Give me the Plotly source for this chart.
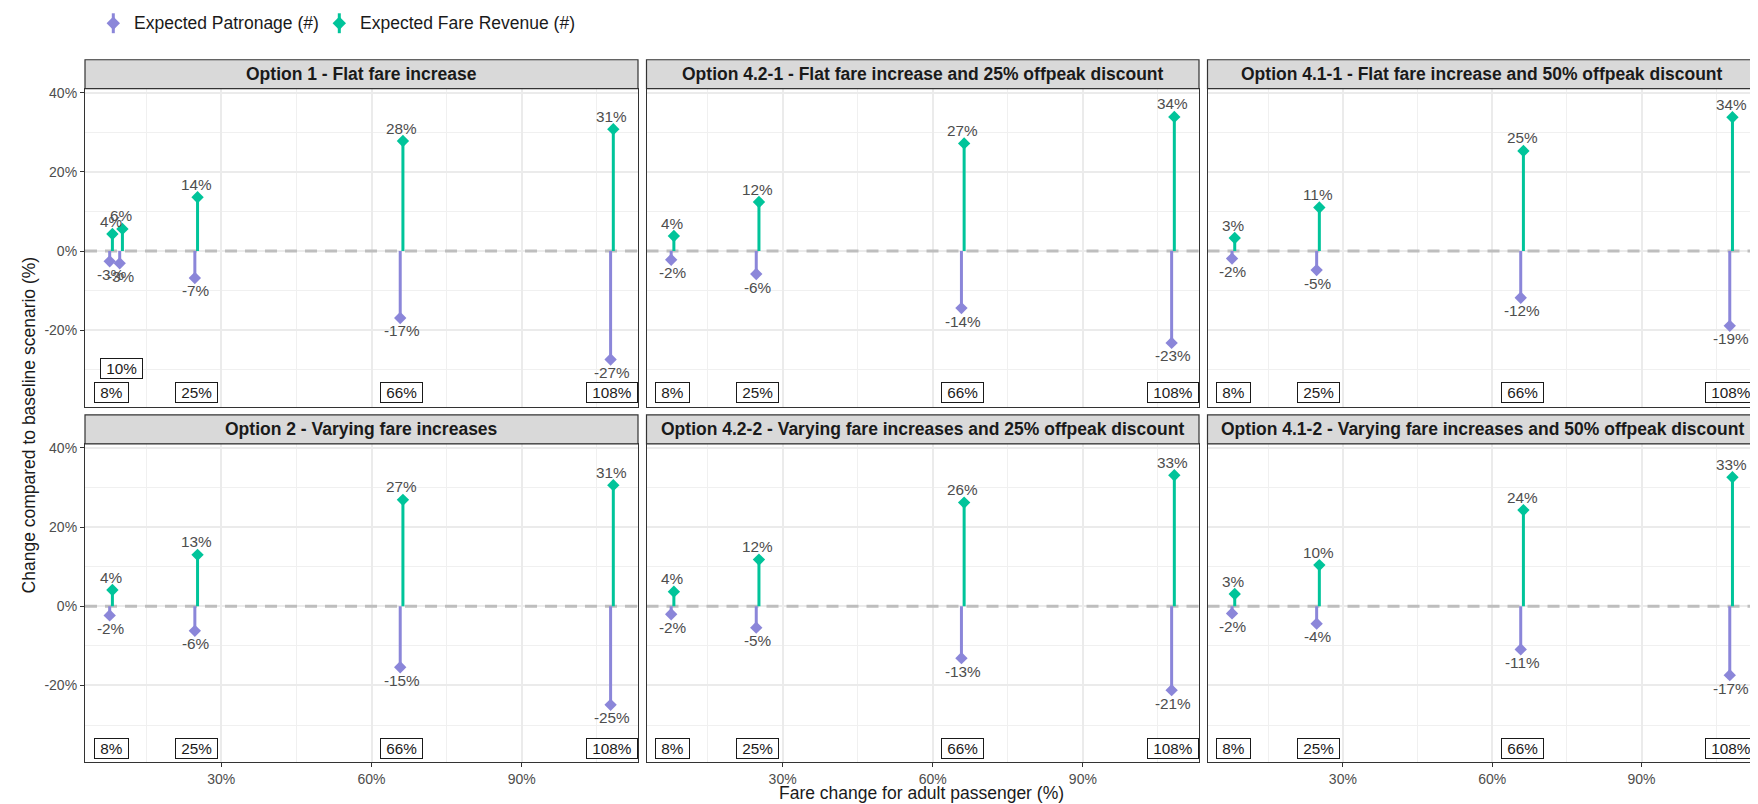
import plotly.graph_objects as go

# page body has an 8px margin; the figure is laid out in reference pixels minus OFF
OFF = 8
W, H = 1758 - OFF, 804 - OFF

# ---------------- data ----------------
panel_titles = [
    "Option 1 - Flat fare increase",
    "Option 4.2-1 - Flat fare increase and 25% offpeak discount",
    "Option 4.1-1 - Flat fare increase and 50% offpeak discount",
    "Option 2 - Varying fare increases",
    "Option 4.2-2 - Varying fare increases and 25% offpeak discount",
    "Option 4.1-2 - Varying fare increases and 50% offpeak discount",
]

fare_opt1 = [8, 10, 25, 66, 108]
fare_std = [8, 25, 66, 108]

patronage_opt1 = [-2.6, -3.1, -6.8, -16.9, -27.4]
revenue_opt1 = [4.3, 5.6, 13.6, 27.8, 30.8]

patronage_opt421 = [-2.2, -5.8, -14.4, -23.2]
revenue_opt421 = [3.8, 12.4, 27.2, 33.9]

patronage_opt411 = [-1.9, -4.8, -11.8, -18.9]
revenue_opt411 = [3.3, 11.0, 25.3, 33.8]

patronage_opt2 = [-2.3, -6.2, -15.4, -24.9]
revenue_opt2 = [4.1, 13.0, 26.9, 30.6]

patronage_opt422 = [-2.0, -5.4, -13.1, -21.2]
revenue_opt422 = [3.7, 11.8, 26.2, 33.1]

patronage_opt412 = [-1.8, -4.4, -10.9, -17.4]
revenue_opt412 = [3.1, 10.4, 24.3, 32.6]

series_names = ["Expected Patronage (#)", "Expected Fare Revenue (#)"]

x_tickvals = [30, 60, 90]
x_minorvals = [15, 45, 75, 105]
y_tickvals = [-20, 0, 20, 40]
y_minorvals = [-30, -10, 10, 30]

panels = [
    (fare_opt1, patronage_opt1, revenue_opt1),
    (fare_std, patronage_opt421, revenue_opt421),
    (fare_std, patronage_opt411, revenue_opt411),
    (fare_std, patronage_opt2, revenue_opt2),
    (fare_std, patronage_opt422, revenue_opt422),
    (fare_std, patronage_opt412, revenue_opt412),
]

# ---------------- style ----------------
PURPLE = "#8B86D9"
GREEN = "#00C49A"
FONT = "Liberation Sans, Arial, sans-serif"
XR = [2.8, 113.2]
YR = [-39.4, 41.05]
DODGE = 0.27
LABEL_BASE = -35.85
LABEL_LIFT = 6.3

col_px = [(85, 638), (646.5, 1199), (1207.5, 1757)]   # reference pixels
row_px = [(85, 405), (442, 762)]                      # plot area top/bottom
STRIP_H = 29

fig = go.Figure()
layout = {}
shapes = []
annotations = []


def px2x(p):
    return (p - OFF) / W


def px2y(p):
    return 1 - (p - OFF) / H


for i, (fares, pat, rev) in enumerate(panels):
    r, c = divmod(i, 3)
    ax = "" if i == 0 else str(i + 1)
    xa, ya = "x" + ax, "y" + ax
    x0p, x1p = col_px[c]
    t, b = row_px[r]

    common = dict(showgrid=True, gridcolor="#EBEBEB", gridwidth=1.5, zeroline=False,
                  showline=True, mirror=True, linecolor="#333333", linewidth=1.2,
                  ticklen=4, tickcolor="#333333", tickwidth=1.2,
                  tickfont=dict(family=FONT, size=14, color="#4D4D4D"))
    layout["xaxis" + ax] = dict(
        common, domain=[px2x(x0p), px2x(x1p)], range=XR, anchor=ya,
        tickvals=x_tickvals, ticktext=[f"{v}%" for v in x_tickvals],
        showticklabels=(r == 1), ticks="outside" if r == 1 else "",
        minor=dict(tickvals=x_minorvals, showgrid=True,
                   gridcolor="#F0F0F0", gridwidth=0.8, ticks=""),
    )
    layout["yaxis" + ax] = dict(
        common, domain=[px2y(b), px2y(t)], range=YR, anchor=xa,
        tickvals=y_tickvals, ticktext=[f"{v}%" for v in y_tickvals],
        showticklabels=(c == 0), ticks="outside" if c == 0 else "",
        minor=dict(tickvals=y_minorvals, showgrid=True,
                   gridcolor="#F0F0F0", gridwidth=0.8, ticks=""),
    )

    # zero dashed reference line (under the segments)
    fig.add_trace(go.Scatter(x=XR, y=[0, 0], mode="lines", xaxis=xa, yaxis=ya,
                             line=dict(color="#BEBEBE", width=3, dash="12px,8px"),
                             showlegend=False, hoverinfo="skip"))

    # strip
    shapes.append(dict(type="rect", xref="paper", yref="paper",
                       x0=px2x(x0p), x1=px2x(x1p), y0=px2y(t), y1=px2y(t - STRIP_H),
                       fillcolor="#D9D9D9", line=dict(color="#333333", width=1.2)))
    annotations.append(dict(xref="paper", yref="paper", x=px2x((x0p + x1p) / 2),
                            y=px2y(t - STRIP_H / 2), text="<b>" + panel_titles[i] + "</b>",
                            showarrow=False, xanchor="center", yanchor="middle",
                            font=dict(family=FONT, size=17.5, color="#1A1A1A")))

    for vals, color, sgn, off in ((pat, PURPLE, -1, -DODGE), (rev, GREEN, 1, DODGE)):
        xs = [f + off for f in fares]
        seg_x, seg_y = [], []
        for xv, yv in zip(xs, vals):
            seg_x += [xv, xv, None]
            seg_y += [0, yv, None]
        fig.add_trace(go.Scatter(x=seg_x, y=seg_y, mode="lines", xaxis=xa, yaxis=ya,
                                 line=dict(color=color, width=3), showlegend=False,
                                 hoverinfo="skip"))
        fig.add_trace(go.Scatter(x=xs, y=vals, mode="markers", xaxis=xa, yaxis=ya,
                                 marker=dict(symbol="diamond", size=9.5, color=color),
                                 showlegend=False))
        for f, v in zip(fares, vals):
            annotations.append(dict(xref=xa, yref=ya, x=f, y=v, text=f"{round(v):.0f}%",
                                    showarrow=False, yshift=13 * sgn, xanchor="center",
                                    yanchor="middle",
                                    font=dict(family=FONT, size=15.3, color="#4D4D4D")))

    # fare-change boxes along the bottom
    prev = None
    for f in fares:
        ylev = LABEL_BASE
        if prev is not None and f - prev < 5:
            ylev = LABEL_BASE + LABEL_LIFT
        prev = f
        annotations.append(dict(xref=xa, yref=ya, x=f, y=ylev, text=f"&nbsp;{f}%&nbsp;",
                                showarrow=False, xanchor="center", yanchor="middle",
                                bgcolor="white", bordercolor="#1A1A1A", borderwidth=1,
                                borderpad=1,
                                font=dict(family=FONT, size=15.3, color="#1A1A1A")))

# axis titles
annotations.append(dict(xref="paper", yref="paper", x=px2x((col_px[0][0] + col_px[2][1]) / 2),
                        y=px2y(793), text="Fare change for adult passenger (%)", showarrow=False,
                        xanchor="center", yanchor="middle",
                        font=dict(family=FONT, size=17.5, color="#1A1A1A")))
annotations.append(dict(xref="paper", yref="paper", x=px2x(29),
                        y=px2y((row_px[0][0] + row_px[1][1]) / 2),
                        text="Change compared to baseline scenario (%)", showarrow=False,
                        textangle=-90, xanchor="center", yanchor="middle",
                        font=dict(family=FONT, size=17.5, color="#1A1A1A")))

# legend (drawn manually to mimic the pointrange key glyph)
leg_y = 19.3
leg_items = [(113.3, PURPLE, series_names[0]), (339.3, GREEN, series_names[1])]
for gx, color, name in leg_items:
    shapes.append(dict(type="line", xref="paper", yref="paper", x0=px2x(gx), x1=px2x(gx),
                       y0=px2y(leg_y - 10), y1=px2y(leg_y + 10), line=dict(color=color, width=3)))
    d = 6.7
    path = (f"M {px2x(gx)},{px2y(leg_y - d)} L {px2x(gx + d)},{px2y(leg_y)} "
            f"L {px2x(gx)},{px2y(leg_y + d)} L {px2x(gx - d)},{px2y(leg_y)} Z")
    shapes.append(dict(type="path", xref="paper", yref="paper", path=path,
                       fillcolor=color, line=dict(color=color, width=0)))
    annotations.append(dict(xref="paper", yref="paper", x=px2x(gx + 19), y=px2y(leg_y),
                            text=name, showarrow=False, xanchor="left", yanchor="middle",
                            font=dict(family=FONT, size=17.5, color="#1A1A1A")))

fig.update_layout(
    width=W, height=H, margin=dict(l=0, r=0, t=0, b=0),
    paper_bgcolor="white", plot_bgcolor="white", showlegend=False,
    shapes=shapes, annotations=annotations, **layout,
)

fig.write_html("out.html")
